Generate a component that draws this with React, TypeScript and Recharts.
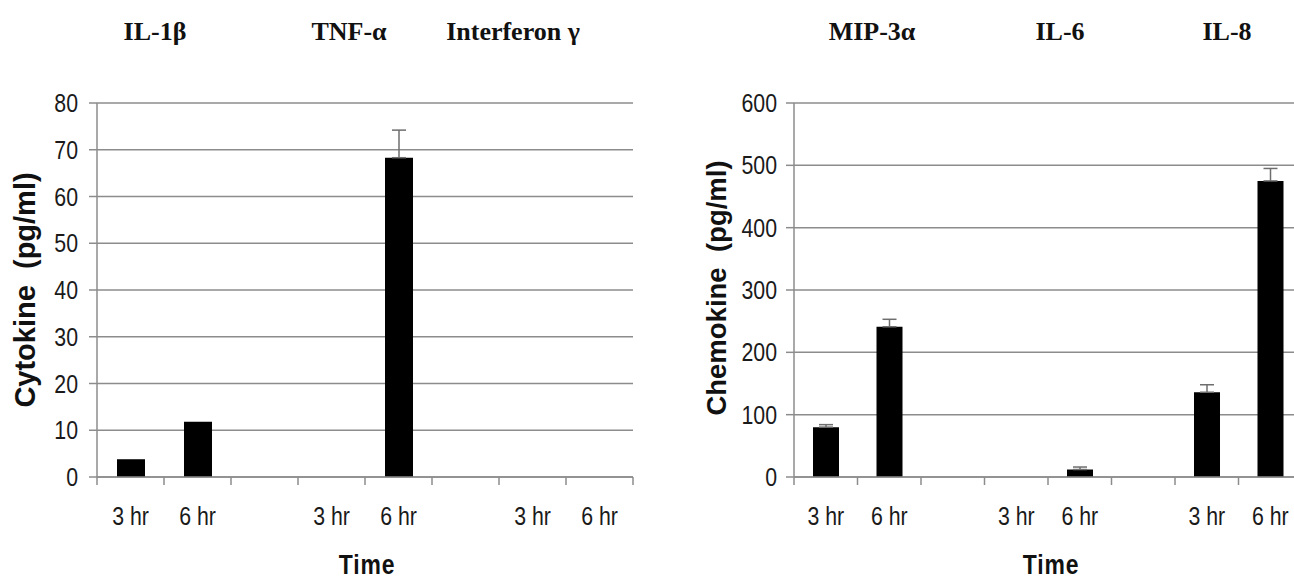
import { Bar, BarChart, CartesianGrid, ErrorBar, XAxis, YAxis } from "recharts";

const timeLabels = ["3 hr", "6 hr", "", "3 hr", "6 hr", "", "3 hr", "6 hr"];

const cytokineNames = ["IL-1β", "TNF-α", "Interferon γ"];
const cytokineValues = [3.8, 11.8, 0, 0, 68.3, 0, 0, 0];
const cytokineErrors = [0, 0, 0, 0, 5.9, 0, 0, 0];
const cytokineTicks = [0, 10, 20, 30, 40, 50, 60, 70, 80];

const chemokineNames = ["MIP-3α", "IL-6", "IL-8"];
const chemokineValues = [80, 241, 0, 0, 12, 0, 136, 475];
const chemokineErrors = [4, 12, 0, 0, 4, 0, 12, 20];
const chemokineTicks = [0, 100, 200, 300, 400, 500, 600];

const GRID = "#8c8c8c";
const SANS = "'Liberation Sans', Arial, sans-serif";
const SERIF = "'Liberation Serif', 'Times New Roman', serif";

const makeRows = (values: number[], errors: number[]) =>
  values.map((v, i) => ({
    slot: i,
    label: timeLabels[i],
    value: v,
    err: errors[i] ? [0, errors[i]] : undefined,
  }));

const cytokineData = makeRows(cytokineValues, cytokineErrors);
const chemokineData = makeRows(chemokineValues, chemokineErrors);

// x ticks: label at the band centre, tick marks on the band edges
const makeXTick = (band: number, count: number) => (props: any) => {
  const { x, y, payload } = props;
  const i = payload.value as number;
  const left = x - band / 2;
  return (
    <g>
      <line x1={left} x2={left} y1={y} y2={y + 8} stroke={GRID} strokeWidth={1.5} />
      {i === count - 1 && (
        <line x1={x + band / 2} x2={x + band / 2} y1={y} y2={y + 8} stroke={GRID} strokeWidth={1.5} />
      )}
      <g transform={`translate(${x},${y + 48}) scale(0.82,1)`}>
        <text textAnchor="middle" fontFamily={SANS} fontSize={26} fill="#1a1a1a">
          {timeLabels[i]}
        </text>
      </g>
    </g>
  );
};

const YTick = (props: any) => {
  const { x, y, payload } = props;
  return (
    <g transform={`translate(${x},${y}) scale(0.82,1)`}>
      <text textAnchor="end" dy={9} fontFamily={SANS} fontSize={26} fill="#1a1a1a">
        {payload.value}
      </text>
    </g>
  );
};

function Panel({
  data,
  ticks,
  band,
  marginLeft,
  marginRight,
  tickMargin,
  barSize,
}: {
  data: any[];
  ticks: number[];
  band: number;
  marginLeft: number;
  marginRight: number;
  tickMargin: number;
  barSize: number;
}) {
  return (
    <BarChart
      width={660}
      height={580}
      data={data}
      margin={{ top: 103, right: marginRight, bottom: 43, left: marginLeft }}
    >
      <CartesianGrid vertical={false} stroke={GRID} strokeWidth={1.5} />
      <XAxis
        dataKey="slot"
        height={60}
        axisLine={{ stroke: GRID, strokeWidth: 1.5 }}
        tickLine={false}
        tickSize={0}
        tickMargin={0}
        interval={0}
        tick={makeXTick(band, data.length)}
      />
      <YAxis
        width={60}
        domain={[0, ticks[ticks.length - 1]]}
        ticks={ticks}
        interval={0}
        axisLine={{ stroke: GRID, strokeWidth: 1.5 }}
        tickLine={{ stroke: GRID, strokeWidth: 1.5 }}
        tickSize={8}
        tickMargin={tickMargin}
        tick={YTick}
      />
      <Bar dataKey="value" fill="#000" barSize={barSize} isAnimationActive={false}>
        <ErrorBar dataKey="err" width={7} stroke="#6e6e6e" strokeWidth={1.5} direction="y" />
      </Bar>
    </BarChart>
  );
}

const titleStyle = { fontFamily: SERIF, fontWeight: 700, fontSize: 26, fill: "#111" };
const axisTitleStyle = { fontFamily: SANS, fontWeight: 700, fill: "#111" };

export default function App() {
  const leftTitleX = [155, 349, 513];
  const rightTitleX = [872, 1060, 1227];
  return (
    <div
      style={{
        position: "absolute",
        left: 0,
        top: 0,
        width: 1294,
        height: 580,
        overflow: "hidden",
        background: "#fff",
      }}
    >
      <div style={{ position: "absolute", left: 0, top: 0 }}>
        <Panel
          data={cytokineData}
          ticks={cytokineTicks}
          band={67}
          marginLeft={37}
          marginRight={27}
          tickMargin={11}
          barSize={28}
        />
      </div>
      <div style={{ position: "absolute", left: 650, top: 0 }}>
        <Panel
          data={chemokineData}
          ticks={chemokineTicks}
          band={63.5}
          marginLeft={84}
          marginRight={8}
          tickMargin={9}
          barSize={26}
        />
      </div>
      <svg
        width={1294}
        height={580}
        style={{ position: "absolute", left: 0, top: 0, pointerEvents: "none" }}
      >
        {cytokineNames.map((n, i) => (
          <text key={n} x={leftTitleX[i]} y={40} textAnchor="middle" style={titleStyle}>
            {n}
          </text>
        ))}
        {chemokineNames.map((n, i) => (
          <text key={n} x={rightTitleX[i]} y={40} textAnchor="middle" style={titleStyle}>
            {n}
          </text>
        ))}
        <text
          transform="translate(35,290) rotate(-90)"
          textAnchor="middle"
          fontSize={29}
          style={axisTitleStyle}
        >
          {"Cytokine\u00a0\u00a0(pg/ml)"}
        </text>
        <text
          transform="translate(726,288) rotate(-90)"
          textAnchor="middle"
          fontSize={27.5}
          style={axisTitleStyle}
        >
          {"Chemokine\u00a0\u00a0(pg/ml)"}
        </text>
        <g transform="translate(367,574) scale(0.85,1)">
          <text textAnchor="middle" fontSize={27} letterSpacing={1} style={axisTitleStyle}>
            Time
          </text>
        </g>
        <g transform="translate(1051,574) scale(0.85,1)">
          <text textAnchor="middle" fontSize={27} letterSpacing={1} style={axisTitleStyle}>
            Time
          </text>
        </g>
      </svg>
    </div>
  );
}
